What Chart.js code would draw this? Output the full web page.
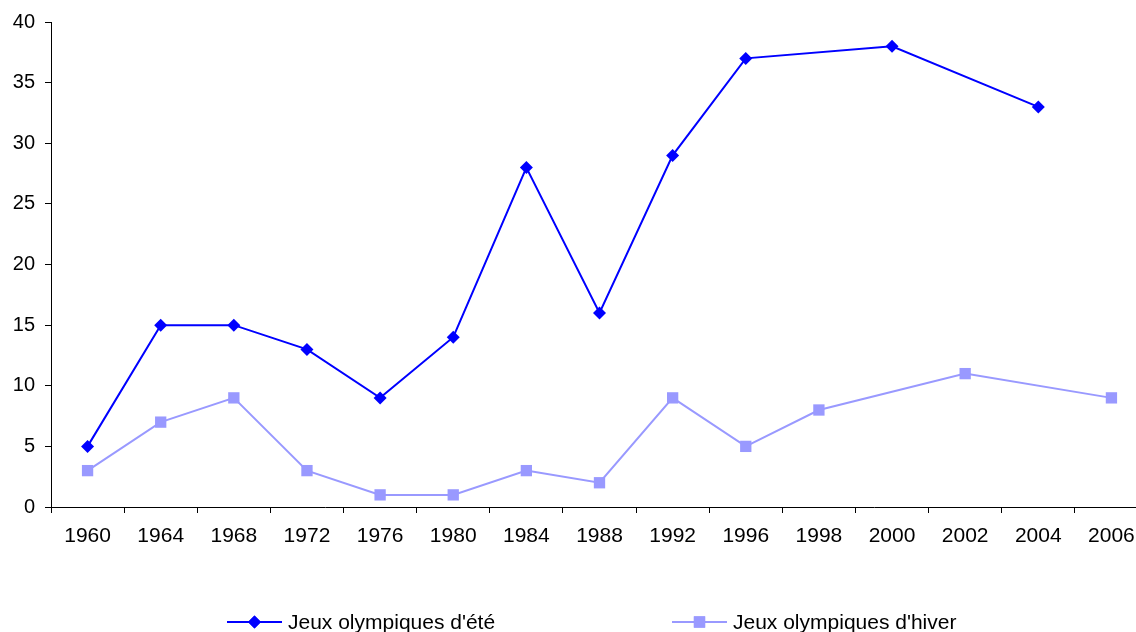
<!DOCTYPE html>
<html>
<head>
<meta charset="utf-8">
<script src="https://cdn.jsdelivr.net/npm/chart.js@4"></script>
<style>
html,body{margin:0;padding:0;background:#fff;overflow:hidden;}
#wrap{position:relative;width:1156px;height:632px;}
</style>
</head>
<body>
<div id="wrap"><canvas id="c" width="1156" height="632"></canvas></div>
<script>
const categories = ['1960','1964','1968','1972','1976','1980','1984','1988','1992','1996','1998','2000','2002','2004','2006'];
const summerLabel = "Jeux olympiques d'été";
const winterLabel = "Jeux olympiques d'hiver";
const summerValues = [5, 15, 15, 13, 9, 14, 28, 16, 29, 37, null, 38, null, 33, null];
const winterValues = [3, 7, 9, 3, 1, 1, 3, 2, 9, 5, 8, null, 11, null, 9];
const yTicks = [0, 5, 10, 15, 20, 25, 30, 35, 40];

const summerColor = '#0000FF';
const winterColor = '#9999FF';
const FONT = "'Liberation Sans', Arial, sans-serif";

const legendPlugin = {
  id: 'customLegend',
  afterDraw(chart) {
    const ctx = chart.ctx;
    const items = [
      {x: 227, text: summerLabel, color: summerColor, style: 'rectRot', r: 6.5},
      {x: 672, text: winterLabel, color: winterColor, style: 'rect', r: 8}
    ];
    const y = 622;
    ctx.save();
    items.forEach(it => {
      ctx.strokeStyle = it.color;
      ctx.lineWidth = 2;
      ctx.beginPath();
      ctx.moveTo(it.x, y);
      ctx.lineTo(it.x + 55, y);
      ctx.stroke();
      ctx.fillStyle = it.color;
      Chart.helpers.drawPoint(ctx, {pointStyle: it.style, radius: it.r, borderWidth: 0, rotation: 0}, it.x + 27.5, y);
      ctx.fill();
      ctx.fillStyle = '#000';
      ctx.font = '21px ' + FONT;
      ctx.textBaseline = 'middle';
      ctx.textAlign = 'left';
      ctx.fillText(it.text, it.x + 61, y + 1);
    });
    ctx.restore();
  }
};

new Chart(document.getElementById('c'), {
  type: 'line',
  data: {
    labels: categories,
    datasets: [
      {
        label: summerLabel,
        data: summerValues,
        borderColor: summerColor,
        backgroundColor: summerColor,
        borderWidth: 2,
        pointStyle: 'rectRot',
        pointRadius: 6.5,
        pointBorderWidth: 0,
        spanGaps: true,
        tension: 0
      },
      {
        label: winterLabel,
        data: winterValues,
        borderColor: winterColor,
        backgroundColor: winterColor,
        borderWidth: 2,
        pointStyle: 'rect',
        pointRadius: 8,
        pointBorderWidth: 0,
        spanGaps: true,
        tension: 0
      }
    ]
  },
  options: {
    responsive: false,
    animation: false,
    layout: {padding: {top: 12, left: 0, right: 0, bottom: 0}},
    plugins: {legend: {display: false}, tooltip: {enabled: false}},
    scales: {
      x: {
        offset: true,
        grid: {offset: true, drawOnChartArea: false, drawTicks: true, tickLength: 6, color: '#000'},
        border: {color: '#000', width: 1},
        ticks: {color: '#000', font: {family: FONT, size: 21}, padding: 11, maxRotation: 0, autoSkip: false},
        afterFit(scale) { scale.height = 125; }
      },
      y: {
        min: 0,
        max: 40,
        afterBuildTicks(scale) { scale.ticks = yTicks.map(v => ({value: v})); },
        grid: {drawOnChartArea: false, drawTicks: true, tickLength: 6, color: '#000'},
        border: {color: '#000', width: 1},
        ticks: {color: '#000', font: {family: FONT, size: 20}, padding: 10},
        afterFit(scale) { scale.width = 51; }
      }
    }
  },
  plugins: [legendPlugin]
});
</script>
</body>
</html>
